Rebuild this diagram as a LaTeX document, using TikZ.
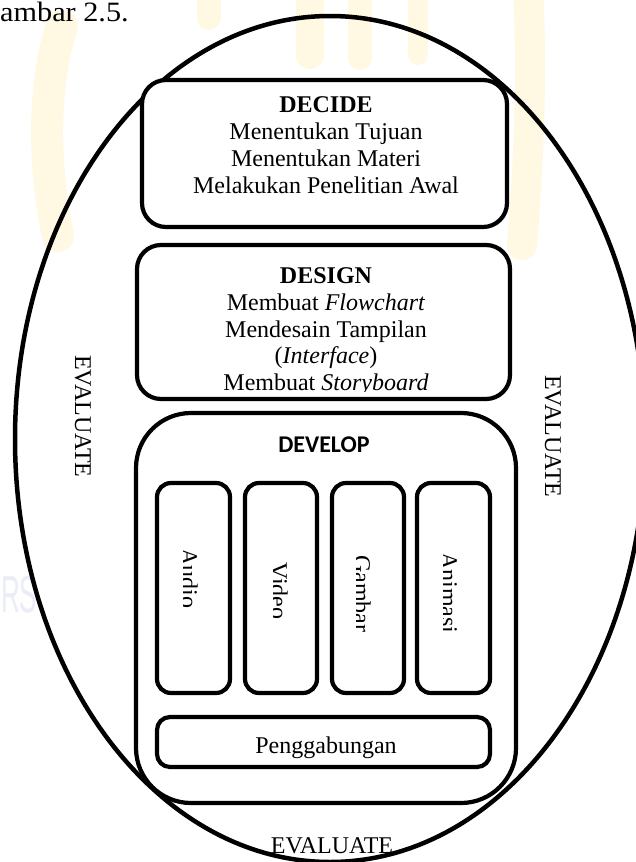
\documentclass[tikz,border=0pt]{standalone}
\usepackage{fontspec}
\setmainfont{Liberation Serif}
\newfontfamily\headsans{Carlito}
\newfontfamily\marksans{Liberation Sans}
\definecolor{wmyellow}{RGB}{255,249,227}
\definecolor{wmblue}{RGB}{234,236,247}
\begin{document}
\begin{tikzpicture}[x=1pt,y=-1pt,
  frame/.style={draw=black, line width=4.2pt, fill=white, rounded corners=#1,
    inner sep=0pt, outer sep=0pt},
  frame/.default=24pt,
  txt/.style={font=\fontsize{24}{27}\selectfont, inner sep=0pt, anchor=base},
  vtxt/.style={font=\fontsize{24}{27}\selectfont, inner sep=0pt, rotate=-90, anchor=base west},
  band/.style={draw=wmyellow, line cap=round}]
\useasboundingbox (0,0) rectangle (635,862);
\fill[white] (0,0) rectangle (635,862);

% faint watermark behind the figure
\draw[band, line width=32pt] (62,26) .. controls (44,80) and (42,160) .. (58,236);
\draw[band, line width=24pt] (209,-10) -- (209,18);
\draw[band, line width=28pt] (310,-10) -- (310,55);
\draw[band, line width=24pt] (360,-10) -- (360,58);
\draw[band, line width=20pt] (418,-10) -- (418,55);
\draw[band, line width=30pt] (528,-10) .. controls (532,60) and (530,150) .. (522,245);
\node[font=\marksans\fontsize{52}{52}\selectfont, text=wmblue, inner sep=0pt,
  anchor=base west, xscale=0.5] (wm) at (1,612) {RS};

\node[font=\fontsize{28}{28}\selectfont, inner sep=0pt, anchor=base west, xscale=1.08] (cap) at (0,21.5) {ambar 2.5.};

% outer evaluation loop
\draw[line width=4.5pt] (330,439) ellipse [x radius=315pt, y radius=423pt];

% decide stage
\node[frame, minimum width=365pt, minimum height=147pt] (decide) at (324.5,153.5) {};
\node[txt] (decide-h) at (326,112) {\textbf{DECIDE}};
\node[txt] (decide-a) at (326,139) {Menentukan Tujuan};
\node[txt] (decide-b) at (326,166) {Menentukan Materi};
\node[txt] (decide-c) at (326,193) {Melakukan Penelitian Awal};

% design stage
\node[frame, minimum width=373pt, minimum height=154pt] (design) at (323.5,322) {};
\node[txt] (design-h) at (326,283) {\textbf{DESIGN}};
\node[txt] (design-a) at (326,310) {Membuat \textit{Flowchart}};
\node[txt] (design-b) at (326,337) {Mendesain Tampilan};
\node[txt] (design-c) at (326,363) {(\textit{Interface})};
\begin{scope}
  \clip (140,370) rectangle (505,391);
  \node[txt] (design-d) at (326,390) {Membuat \textit{Storyboard}};
\end{scope}

% develop stage
\node[frame=55pt, minimum width=380pt, minimum height=390pt] (develop) at (326,608) {};
\node[txt, font=\headsans\bfseries\fontsize{24}{27}\selectfont] (develop-h) at (324,452) {DEVELOP};

\node[frame=14pt, minimum width=73pt, minimum height=210pt] (audio) at (193.5,588) {};
\node[frame=14pt, minimum width=72pt, minimum height=210pt] (video) at (281,588) {};
\node[frame=14pt, minimum width=72pt, minimum height=210pt] (gambar) at (368,588) {};
\node[frame=14pt, minimum width=73pt, minimum height=210pt] (animasi) at (453.5,588) {};

\begin{scope}
  \clip (183.5,500) rectangle (226,680);
  \node[vtxt] (audio-t) at (181,548) {Audio};
\end{scope}
\begin{scope}
  \clip (273.5,500) rectangle (313,680);
  \node[vtxt] (video-t) at (271,562) {Video};
\end{scope}
\begin{scope}
  \clip (356.5,500) rectangle (400,680);
  \node[vtxt] (gambar-t) at (354,555) {Gambar};
\end{scope}
\begin{scope}
  \clip (443.5,500) rectangle (486,680);
  \node[vtxt] (animasi-t) at (441,552) {Animasi};
\end{scope}

\node[frame=13pt, minimum width=333pt, minimum height=50pt] (gabung) at (323.5,742) {};
\node[txt] (gabung-t) at (326,753) {Penggabungan};

% evaluation labels
\node[vtxt] (eval-l) at (75,355) {EVALUATE};
\node[vtxt] (eval-r) at (545,375) {EVALUATE};
\node[txt] (eval-b) at (332,853) {EVALUATE};
\end{tikzpicture}
\end{document}
